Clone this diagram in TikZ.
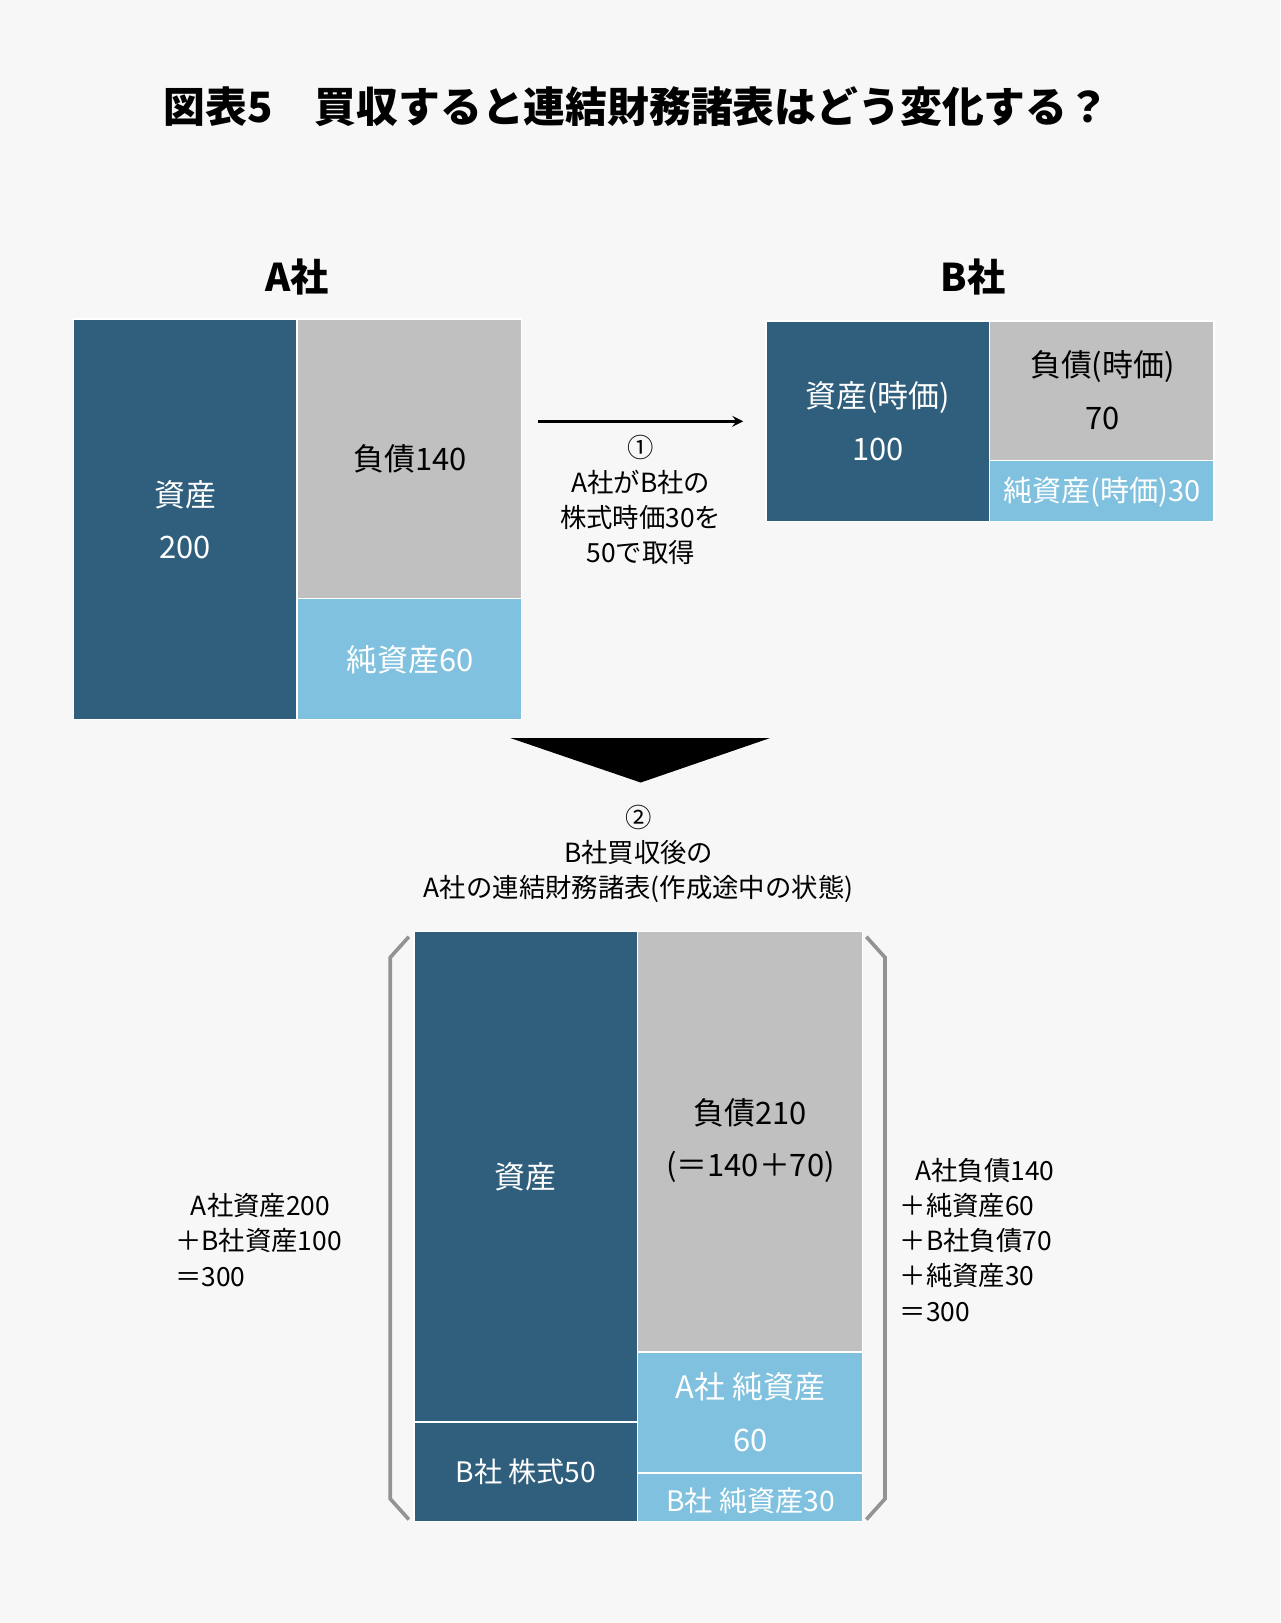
\documentclass[tikz,border=0pt]{standalone}
\usepackage{fontspec}
\setmainfont{Noto Sans CJK JP}
\usetikzlibrary{positioning, calc}
\definecolor{darkblue}{HTML}{2F5F7C}
\definecolor{liabgray}{HTML}{C0C0C0}
\definecolor{lightblue}{HTML}{7FC1DF}
\definecolor{bggray}{HTML}{F7F7F7}

\begin{document}
\begin{tikzpicture} [
    x=0.02cm, y=-0.02cm,
    asset/.style={draw=white, line width=0.8pt, fill=darkblue},
    liab/.style={draw=white, line width=0.8pt, fill=liabgray},
    equity/.style={draw=white, line width=0.8pt, fill=lightblue},
    wtext/.style={text=white, font=\fontsize{17}{29}\selectfont, align=center},
    btext/.style={text=black, font=\fontsize{17}{29}\selectfont, align=center},
    note/.style={font=\fontsize{14.5}{19.3}\selectfont, align=center},
    side/.style={font=\fontsize{14.5}{19.3}\selectfont, align=left, anchor=north west},
    head/.style={font=\bfseries\fontsize{21}{25}\selectfont},
    bracket/.style={draw=gray!85, line width=2pt},
    arrow/.style={->, line width=1.6pt, >=stealth}
]

% background and title
\fill[bggray] (0,0) rectangle (1237,1568);
\node[font=\bfseries\fontsize{23}{28}\selectfont] (title) at (615,103) {図表5\quad 買収すると連結財務諸表はどう変化する？};

% company A
\node[head] (headA) at (287,268) {A社};
\filldraw[asset] (71,308) rectangle (287,695);
\filldraw[liab] (287,308) rectangle (504,578);
\filldraw[equity] (287,578) rectangle (504,695);
\node[wtext] (assetA) at (179,502) {資産\\200};
\node[btext] (liabA) at (396,443) {負債140};
\node[wtext] (equityA) at (396,637) {純資産60};

% company B
\node[head] (headB) at (940,268) {B社};
\filldraw[asset] (740,310) rectangle (956,504);
\filldraw[liab] (956,310) rectangle (1173,445);
\filldraw[equity] (956,445) rectangle (1173,504);
\node[wtext] (assetB) at (848,407) {資産(時価)\\100};
\node[btext] (liabB) at (1065,377) {負債(時価)\\70};
\node[wtext, font=\fontsize{16}{20}\selectfont] (equityB) at (1065,475) {純資産(時価)30};

% acquisition
\coordinate (arrS) at (520,407);
\coordinate (arrE) at (718,407);
\draw[arrow] (arrS) -- (arrE);
\node[note, below=4pt of {$(arrS)!0.5!(arrE)$}] (step1) {①\\A社がB社の\\株式時価30を\\50で取得};

% consolidation
\fill[black] (493,713) -- (744,713) -- (619,756) -- cycle;
\node[note] (step2) at (617,825) {②\\B社買収後の\\A社の連結財務諸表(作成途中の状態)};

\filldraw[asset] (400,900) rectangle (616,1374);
\filldraw[asset] (400,1374) rectangle (616,1470);
\filldraw[liab] (616,900) rectangle (833,1306);
\filldraw[equity] (616,1306) rectangle (833,1423);
\filldraw[equity] (616,1423) rectangle (833,1470);
\node[wtext] (assetC) at (508,1137) {資産};
\node[wtext, font=\fontsize{15.5}{20}\selectfont] (stockC) at (508,1422) {B社 株式50};
\node[btext] (liabC) at (725,1102) {負債210\\(＝140＋70)};
\node[wtext] (equityC) at (725,1364) {A社 純資産\\60};
\node[wtext, font=\fontsize{15.5}{20}\selectfont] (equityD) at (725,1450) {B社 純資産30};

% brackets and totals
\draw[bracket] (395,905) -- (377,925) -- (377,1448) -- (395,1468);
\draw[bracket] (837,905) -- (855,925) -- (855,1448) -- (837,1468);
\node[side] (sumL) at (163,1147) {\hspace{0.6em}A社資産200\\＋B社資産100\\＝300};
\node[side] (sumR) at (863,1113) {\hspace{0.6em}A社負債140\\＋純資産60\\＋B社負債70\\＋純資産30\\＝300};

\useasboundingbox (0,0) rectangle (1237,1568);
\end{tikzpicture}
\end{document}
